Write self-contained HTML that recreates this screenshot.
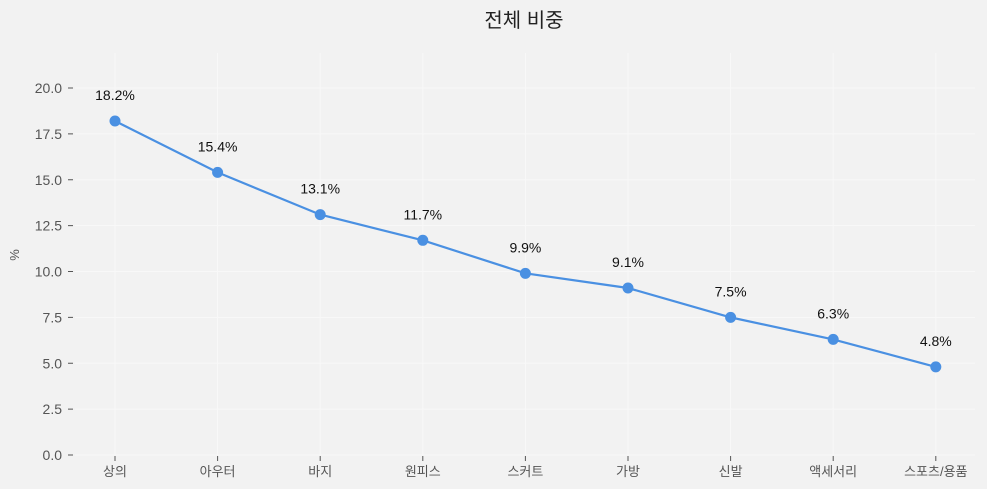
<!DOCTYPE html>
<html><head><meta charset="utf-8"><style>
body{margin:0;background:#f2f2f2;}
svg{display:block;font-family:"Liberation Sans","Noto Sans CJK KR",sans-serif;}
</style></head><body>
<svg id="chart" width="987" height="489">
<rect width="987" height="489" fill="#f2f2f2"/>
<text x="524" y="27" font-size="20" text-anchor="middle" fill="#222">전체 비중</text>
<text transform="translate(19,255) rotate(-90)" font-size="13" text-anchor="middle" fill="#555">%</text>
<g id="grid"></g><g id="axes"></g><g id="marks"></g>
</svg>
<script>
const categories=["상의","아우터","바지","원피스","스커트","가방","신발","액세서리","스포츠/용품"];
const values=[18.2,15.4,13.1,11.7,9.9,9.1,7.5,6.3,4.8];
const yTicks=[0,2.5,5,7.5,10,12.5,15,17.5,20];
const ns="http://www.w3.org/2000/svg";
const x=i=>115+i*102.6;
const y=v=>455-v*18.35;
function mk(tag,attrs,parent,txt){const e=document.createElementNS(ns,tag);for(const k in attrs)e.setAttribute(k,attrs[k]);if(txt!==undefined)e.textContent=txt;document.getElementById(parent).appendChild(e);return e;}
yTicks.forEach(t=>{
 let g=mk('line',{x1:75,x2:975,y1:y(t),y2:y(t),stroke:'#f8f8f8','stroke-width':1},'grid');
 
 let tk=mk('line',{x1:68,x2:73,y1:y(t),y2:y(t),stroke:'#555'},'axes');
 
 let l=mk('text',{x:62,y:y(t)+5,'font-size':14,'text-anchor':'end',fill:'#555'},'axes',t.toFixed(1));
 
});
categories.forEach((c,i)=>{
 let g=mk('line',{x1:x(i),x2:x(i),y1:53,y2:455,stroke:'#f8f8f8'},'grid');
 
 let tk=mk('line',{x1:x(i),x2:x(i),y1:456,y2:461,stroke:'#555'},'axes');
 
 let l=mk('text',{x:x(i),y:476,'font-size':13,'text-anchor':'middle',fill:'#555'},'axes',c);
 
});
const pts=values.map((v,i)=>x(i)+','+y(v)).join(' ');
const pl=mk('polyline',{points:pts,fill:'none',stroke:'#4a90e2','stroke-width':2.2},'marks');

values.forEach((v,i)=>{
 let c=mk('circle',{cx:x(i),cy:y(v),r:5.5,fill:'#4a90e2'},'marks');
 
 let l=mk('text',{x:x(i),y:y(v)-21,'font-size':14,'text-anchor':'middle',fill:'#111'},'marks',v.toFixed(1)+'%');
 
});
</script>
</body></html>
